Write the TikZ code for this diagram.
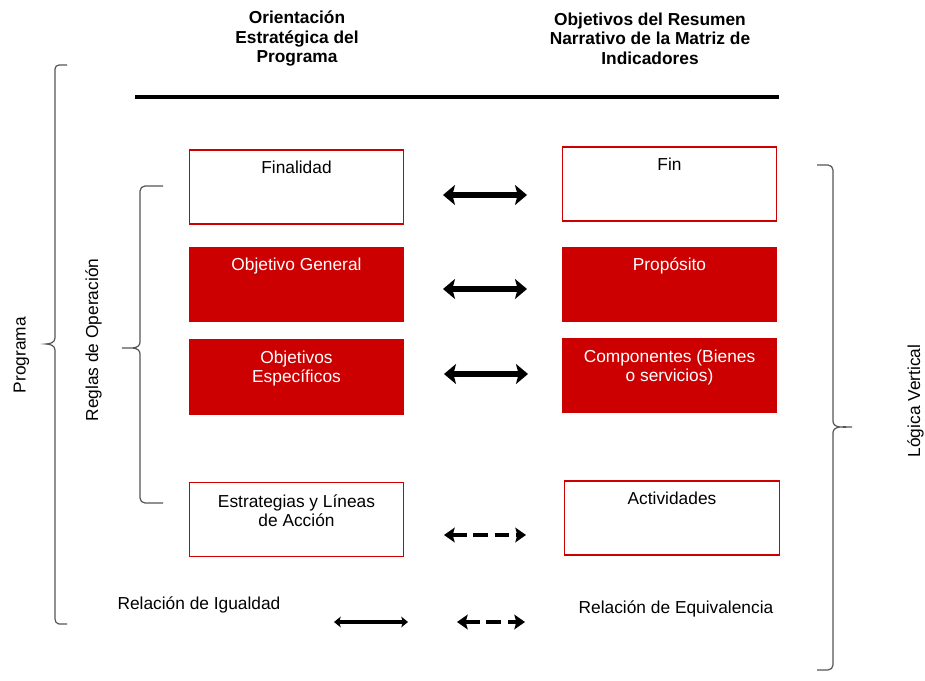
\documentclass[tikz,border=0pt]{standalone}
\usepackage{fontspec}
\setmainfont{Liberation Sans}
\usetikzlibrary{arrows.meta}

\definecolor{rojo}{HTML}{CC0000}
\definecolor{gris}{HTML}{555555}

\tikzset{
  texto/.style={font=\fontsize{13}{14.5}\selectfont, align=center, inner sep=0pt},
  caja/.style={draw=rojo, line width=0.8pt, minimum width=161pt, minimum height=55.5pt, inner sep=0pt},
  cajaroja/.style={caja, fill=rojo},
  igual/.style={line width=4.5pt, {Stealth[length=9pt,width=15pt,inset=2pt]}-{Stealth[length=9pt,width=15pt,inset=2pt]}},
  igualchica/.style={line width=2.6pt, {Stealth[length=5pt,width=8pt,inset=1pt]}-{Stealth[length=5pt,width=8pt,inset=1pt]}},
  equiv/.style={line width=2.6pt, dash pattern=on 11pt off 5pt, {Stealth[length=8pt,width=11pt,inset=1.5pt]}-{Stealth[length=8pt,width=11pt,inset=1.5pt]}},
  llave/.style={draw=gris, line width=0.9pt}
}

\begin{document}
\begin{tikzpicture}[x=0.75pt,y=-0.75pt]

      \useasboundingbox (0,0) rectangle (925,681);

      % encabezados
      \begin{scope}[every node/.style={texto,font=\fontsize{13}{14.5}\selectfont\bfseries}]
        \node (hizq) at (297,38.5) {Orientación\\Estratégica del\\Programa};
        \node (hder) at (650,38.5) {Objetivos del Resumen\\Narrativo de la Matriz de\\Indicadores};
      \end{scope}
      \coordinate (r1) at (135,97);
      \coordinate (r2) at (779,97);
      \draw[line width=2.6pt] (r1) -- (r2);

      % cajas
      \node[caja] (finalidad) at (296.5,187) {};
      \node[cajaroja] (general) at (296.5,284.5) {};
      \node[cajaroja] (especificos) at (296.5,377) {};
      \node[caja] (estrategias) at (296.5,519.5) {};
      \node[caja] (fin) at (669.5,184) {};
      \node[cajaroja] (proposito) at (669.5,284.5) {};
      \node[cajaroja] (componentes) at (669.5,375.5) {};
      \node[caja] (actividades) at (672,518) {};

      \begin{scope}[every node/.style={texto}]
        \node (tfinalidad) at (296.5,167) {Finalidad};
        \node[white] (tgeneral) at (296.5,266) {Objetivo General};
        \node[white] (tespecificos) at (296.5,368.5) {Objetivos\\Específicos};
        \node (testrategias) at (296.5,511) {Estrategias y Líneas\\de Acción};
        \node (tfin) at (669.5,164) {Fin};
        \node[white] (tproposito) at (669.5,266) {Propósito};
        \node[white] (tcomponentes) at (669.5,367.5) {Componentes (Bienes\\o servicios)};
        \node (tactividades) at (672,498) {Actividades};
        \node (igualdad) at (199,605) {Relación de Igualdad};
        \node (equivalencia) at (676,609) {Relación de Equivalencia};
      \end{scope}

      % flechas
      \coordinate (a1) at (443,195);  \coordinate (b1) at (527,195);
      \coordinate (a2) at (443,289);  \coordinate (b2) at (527,289);
      \coordinate (a3) at (444,374);  \coordinate (b3) at (528,374);
      \coordinate (a4) at (444,535);  \coordinate (b4) at (526,535);
      \coordinate (a5) at (334,622);  \coordinate (b5) at (408,622);
      \coordinate (a6) at (457,622);  \coordinate (b6) at (525,622);
      \draw[igual] (a1) -- (b1);
      \draw[igual] (a2) -- (b2);
      \draw[igual] (a3) -- (b3);
      \draw[equiv] (a4) -- (b4);
      \draw[igualchica] (a5) -- (b5);
      \draw[equiv] (a6) -- (b6);

      % llaves
      \draw[llave] (67,65) -- (59,65) to[out=180,in=90] (55,69) -- (55,338)
        to[out=-90,in=0] (46,344) to[out=0,in=90] (55,350) -- (55,619)
        to[out=-90,in=180] (59,624) -- (67,624);
      \draw[llave] (163,186) -- (145,186) to[out=180,in=90] (140,191) -- (140,342)
        to[out=-90,in=0] (122,348) to[out=0,in=90] (140,354) -- (140,498)
        to[out=-90,in=180] (145,503) -- (163,503);
      \draw[llave] (817,165) -- (828,165) to[out=0,in=90] (833,170) -- (833,421)
        to[out=-90,in=180] (852,427) to[out=180,in=90] (833,433) -- (833,665)
        to[out=-90,in=0] (828,670) -- (817,670);

      \begin{scope}[every node/.style={texto,rotate=90}]
        \node (programa) at (21.5,355) {Programa};
        \node (reglas) at (93.5,340) {Reglas de Operación};
        \node[anchor=south] (logica) at (924,401) {Lógica Vertical};
      \end{scope}

    \end{tikzpicture}
\end{document}
